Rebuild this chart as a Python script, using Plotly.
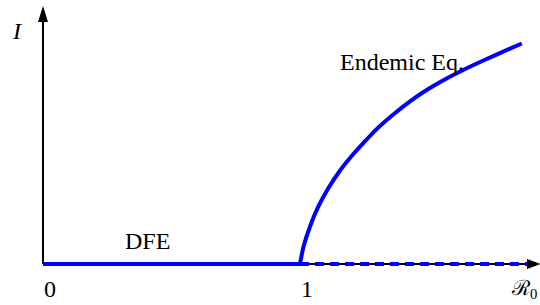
import plotly.graph_objects as go

# ---- data (R0 on x, I on y; I in units where 1 unit of R0 = 1 unit of I on screen) ----
r0_dfe = [0.0, 1.0]
i_dfe = [0.0, 0.0]

r0_unstable = [1.0, 1.90]
i_unstable = [0.0, 0.0]

r0_endemic = [1.000, 1.013, 1.039, 1.071, 1.110, 1.156, 1.201, 1.246, 1.298,
              1.363, 1.428, 1.493, 1.558, 1.623, 1.688, 1.752, 1.817, 1.863]
i_endemic = [0.000, 0.065, 0.146, 0.223, 0.295, 0.364, 0.420, 0.470, 0.525,
             0.582, 0.633, 0.677, 0.715, 0.749, 0.780, 0.809, 0.838, 0.858]

tick_vals = [0.0, 1.0]
tick_text = ["0", "1"]
r0_label_pos = 1.93
r0_label = "\u211B<sub>0</sub>"

W, H = 540, 305
ox, oy, unit = 43, 264, 257.0  # pixel origin and pixels per unit
x_range = [-ox / unit, (W - ox) / unit]
y_range = [-(H - oy) / unit, oy / unit]

x_tip = (541 - ox) / unit
y_tip = (oy - 6) / unit

BLUE = "#0000ff"
FONT = "Liberation Serif, DejaVu Serif, serif"
FS = 24

fig = go.Figure()
fig.add_trace(go.Scatter(x=r0_dfe, y=i_dfe, mode="lines",
                         line=dict(color=BLUE, width=4), hoverinfo="skip"))
fig.add_trace(go.Scatter(x=r0_unstable, y=i_unstable, mode="lines",
                         line=dict(color=BLUE, width=4, dash="9px,6px"), hoverinfo="skip"))
fig.add_trace(go.Scatter(x=r0_endemic, y=i_endemic, mode="lines",
                         line=dict(color=BLUE, width=4, shape="spline", smoothing=0.5),
                         hoverinfo="skip"))

shapes = [
    dict(type="line", xref="x", yref="y", x0=0, y0=0, x1=x_tip - 0.03, y1=0,
         line=dict(color="black", width=2), layer="below"),
    dict(type="line", xref="x", yref="y", x0=0, y0=0, x1=0, y1=y_tip - 0.03,
         line=dict(color="black", width=2), layer="below"),
    # arrowheads (pixel-sized, anchored at tips)
    dict(type="path", xref="x", yref="y", xsizemode="pixel", ysizemode="pixel",
         xanchor=0, yanchor=y_tip, path="M0,0 L-5,-16 L5,-16 Z",
         fillcolor="black", line=dict(color="black", width=0)),
    dict(type="path", xref="x", yref="y", xsizemode="pixel", ysizemode="pixel",
         xanchor=x_tip, yanchor=0, path="M0,0 L-14,5 L-14,-5 Z",
         fillcolor="black", line=dict(color="black", width=0)),
]

annotations = [
    dict(x=(17 - ox) / unit, y=(oy - 31) / unit, text="<i>I</i>", showarrow=False,
         font=dict(family=FONT, size=FS, color="black")),
    dict(x=(402 - ox) / unit, y=(oy - 62) / unit, text="Endemic Eq.", showarrow=False,
         font=dict(family=FONT, size=FS, color="black")),
    dict(x=(147 - ox) / unit, y=(oy - 241) / unit, text="DFE", showarrow=False,
         font=dict(family=FONT, size=FS, color="black")),
    dict(x=r0_label_pos, y=-(289 - oy) / unit, text=r0_label, showarrow=False,
         xanchor="right", font=dict(family=FONT, size=21, color="black")),
]
for v, t in zip(tick_vals, tick_text):
    annotations.append(dict(x=v, y=-(289 - oy) / unit, text=t, showarrow=False,
                            xanchor="left", xshift=-1,
                            font=dict(family=FONT, size=FS, color="black")))

fig.update_layout(
    width=W, height=H,
    margin=dict(l=0, r=0, t=0, b=0),
    paper_bgcolor="white", plot_bgcolor="white",
    showlegend=False,
    xaxis=dict(range=x_range, visible=False, fixedrange=True),
    yaxis=dict(range=y_range, visible=False, fixedrange=True),
    shapes=shapes,
    annotations=annotations,
)

fig.write_html("out.html", config={"displayModeBar": False},
               post_script="document.body.style.margin='0';document.body.style.overflow='hidden';")
